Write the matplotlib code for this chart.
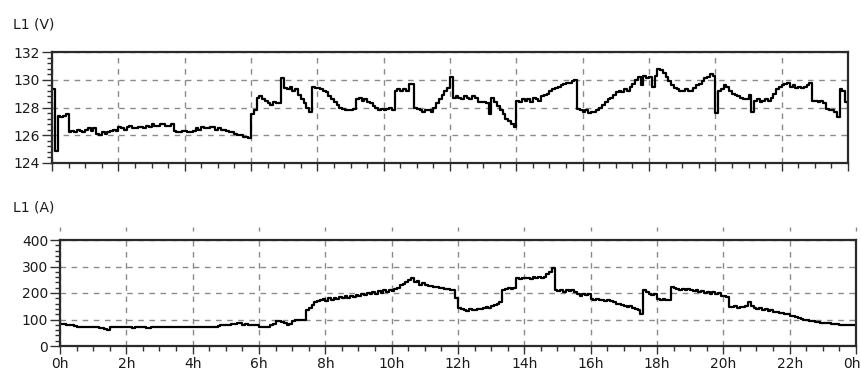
import numpy as np
import matplotlib
matplotlib.use("Agg")
import matplotlib.pyplot as plt
from matplotlib.ticker import MultipleLocator
from matplotlib.transforms import ScaledTranslation

# Phase L1 voltage (V), one reading every 5 minutes (12 per hour)
voltage = [
    129.3, 124.9, 127.4, 127.3, 127.4, 127.5, 126.2, 126.3, 126.2, 126.4, 126.3, 126.2,  # 0h
    126.4, 126.5, 126.3, 126.5, 126.1, 126.0, 126.2, 126.1, 126.2, 126.3, 126.4, 126.3,  # 1h
    126.6, 126.5, 126.4, 126.6, 126.7, 126.5, 126.5, 126.6, 126.6, 126.5, 126.7, 126.6,  # 2h
    126.8, 126.7, 126.7, 126.8, 126.8, 126.7, 126.7, 126.8, 126.3, 126.2, 126.2, 126.3,  # 3h
    126.3, 126.2, 126.2, 126.3, 126.5, 126.4, 126.6, 126.5, 126.5, 126.6, 126.6, 126.4,  # 4h
    126.5, 126.4, 126.4, 126.3, 126.2, 126.2, 126.1, 126.0, 126.0, 125.9, 125.9, 125.8,  # 5h
    127.5, 127.8, 128.7, 128.8, 128.6, 128.5, 128.3, 128.2, 128.4, 128.3, 128.3, 130.1,  # 6h
    129.4, 129.3, 129.5, 129.2, 129.3, 128.9, 128.6, 128.3, 128.0, 127.7, 129.5, 129.4,  # 7h
    129.4, 129.3, 129.2, 129.1, 128.8, 128.6, 128.4, 128.2, 128.0, 127.9, 127.8, 127.8,  # 8h
    127.8, 127.9, 128.6, 128.7, 128.5, 128.6, 128.4, 128.3, 128.1, 128.0, 127.8, 127.9,  # 9h
    127.8, 127.9, 128.0, 127.8, 129.2, 129.3, 129.2, 129.3, 129.2, 129.7, 129.7, 128.0,  # 10h
    127.9, 127.8, 127.7, 127.8, 127.8, 127.7, 128.0, 128.3, 128.6, 128.9, 129.2, 129.4,  # 11h
    130.2, 128.7, 128.8, 128.7, 128.6, 128.8, 128.7, 128.6, 128.8, 128.7, 128.4, 128.4,  # 12h
    128.4, 128.3, 127.5, 128.7, 128.4, 128.1, 127.8, 127.5, 127.2, 127.0, 126.8, 126.6,  # 13h
    128.5, 128.4, 128.6, 128.5, 128.6, 128.4, 128.7, 128.6, 128.5, 128.8, 128.9, 129.0,  # 14h
    129.2, 129.3, 129.4, 129.5, 129.6, 129.7, 129.8, 129.8, 129.9, 130.0, 127.9, 127.8,  # 15h
    127.7, 127.8, 127.6, 127.7, 127.7, 127.8, 128.0, 128.2, 128.4, 128.6, 128.7, 128.9,  # 16h
    129.1, 129.2, 129.1, 129.3, 129.2, 129.5, 129.7, 130.0, 130.2, 129.6, 130.3, 130.1,  # 17h
    130.2, 129.5, 130.3, 130.8, 130.7, 130.5, 130.2, 129.9, 129.6, 129.4, 129.3, 129.2,  # 18h
    129.2, 129.3, 129.2, 129.2, 129.4, 129.6, 129.7, 129.9, 130.1, 130.2, 130.4, 130.3,  # 19h
    127.6, 129.2, 129.3, 129.6, 129.5, 129.2, 129.0, 128.9, 128.8, 128.7, 128.6, 128.6,  # 20h
    128.9, 127.7, 128.5, 128.6, 128.4, 128.5, 128.6, 128.5, 128.7, 129.0, 129.3, 129.5,  # 21h
    129.6, 129.7, 129.8, 129.5, 129.6, 129.4, 129.5, 129.4, 129.5, 129.6, 129.8, 128.5,  # 22h
    128.5, 128.4, 128.5, 128.3, 127.9, 127.8, 127.8, 127.7, 127.3, 129.3, 129.2, 128.4,  # 23h
    128.0,
]

# Phase L1 current (A), same 5-minute readings
current = [
    82, 84, 80, 81, 78, 76, 72, 73, 70, 71, 71, 72,  # 0h
    70, 71, 68, 69, 64, 62, 70, 70, 71, 72, 70, 71,  # 1h
    70, 71, 69, 72, 71, 70, 70, 69, 69, 71, 70, 70,  # 2h
    70, 70, 70, 71, 71, 72, 70, 70, 70, 72, 71, 72,  # 3h
    72, 73, 70, 71, 71, 70, 70, 72, 72, 76, 78, 80,  # 4h
    80, 81, 82, 84, 85, 86, 81, 82, 80, 79, 79, 80,  # 5h
    72, 70, 70, 72, 80, 82, 93, 95, 92, 88, 80, 82,  # 6h
    95, 98, 97, 99, 98, 136, 145, 155, 165, 170, 172, 176,  # 7h
    170, 180, 172, 182, 176, 185, 180, 188, 182, 190, 186, 192,  # 8h
    188, 196, 192, 200, 195, 204, 198, 206, 200, 210, 205, 212,  # 9h
    208, 216, 220, 230, 235, 242, 248, 256, 240, 246, 232, 236,  # 10h
    230, 226, 228, 222, 224, 218, 220, 214, 216, 210, 212, 180,  # 11h
    145, 140, 136, 132, 138, 134, 136, 140, 138, 142, 148, 145,  # 12h
    150, 155, 160, 167, 212, 215, 218, 214, 220, 255, 252, 258,  # 13h
    255, 258, 254, 260, 257, 262, 258, 262, 270, 278, 293, 210,  # 14h
    208, 212, 205, 210, 206, 212, 204, 198, 190, 198, 192, 196,  # 15h
    176, 174, 178, 172, 174, 170, 172, 168, 165, 160, 158, 155,  # 16h
    152, 148, 150, 144, 140, 136, 121, 210, 205, 195, 192, 196,  # 17h
    176, 174, 178, 172, 175, 224, 218, 215, 212, 216, 210, 214,  # 18h
    212, 208, 210, 204, 206, 200, 204, 198, 202, 196, 200, 188,  # 19h
    190, 186, 148, 146, 150, 144, 148, 146, 152, 166, 150, 145,  # 20h
    140, 142, 136, 138, 132, 134, 128, 130, 125, 126, 121, 122,  # 21h
    112, 114, 108, 106, 102, 98, 100, 96, 94, 92, 90, 88,  # 22h
    86, 87, 85, 84, 82, 83, 80, 80, 79, 80, 78, 78,  # 23h
    78,
]

hour_ticks = list(range(0, 25, 2))
hour_labels = ["0h", "2h", "4h", "6h", "8h", "10h", "12h",
               "14h", "16h", "18h", "20h", "22h", "0h"]
voltage_ticks = [124, 126, 128, 130, 132]
current_ticks = [0, 100, 200, 300, 400]

hours = np.arange(len(voltage)) / 12.0

W, H = 862, 372
fig = plt.figure(figsize=(W / 100, H / 100), dpi=100)
fig.patch.set_facecolor("white")

text_color = "#1a1a1a"
grid_kw = dict(color="#8a8a8a", linestyle=(0, (4, 4)), linewidth=1.0)
font_size = 10


def style_axes(ax, yticks, ylim, yminor, show_xlabels):
    ax.set_xlim(0, 24)
    ax.set_ylim(*ylim)
    ax.set_xticks(hour_ticks)
    ax.xaxis.set_minor_locator(MultipleLocator(0.5))
    ax.set_yticks(yticks)
    ax.yaxis.set_minor_locator(MultipleLocator(yminor))
    if show_xlabels:
        ax.set_xticklabels(hour_labels)
    else:
        ax.set_xticklabels([])
    ax.grid(True, which="major", **grid_kw)
    ax.tick_params(axis="x", which="major", direction="out", length=5.5,
                   width=1.0, color="#333333", labelsize=font_size,
                   labelcolor=text_color, pad=2.5)
    ax.tick_params(axis="y", which="major", direction="out", length=7,
                   width=1.0, color="#333333", labelsize=font_size,
                   labelcolor=text_color, pad=1.5)
    ax.tick_params(axis="both", which="minor", direction="out", length=3.5,
                   width=1.0, color="#333333")
    for sp in ax.spines.values():
        sp.set_color("#2a2a2a")
        sp.set_linewidth(1.6)
    ax.set_axisbelow(True)


# Voltage panel
ax_v = fig.add_axes([52 / W, 1 - 163 / H, 796 / W, 111 / H])
ax_v.plot(hours, voltage, color="black", linewidth=1.6, drawstyle="steps-post")
style_axes(ax_v, voltage_ticks, (124, 132), 0.4, False)
fig.text(13 / W, 1 - 24 / H, "L1 (V)", fontsize=font_size, color=text_color,
         ha="left", va="center")

# Current panel
ax_a = fig.add_axes([60 / W, 26 / H, 796 / W, 106 / H])
ax_a.plot(hours, current, color="black", linewidth=1.6, drawstyle="steps-post")
style_axes(ax_a, current_ticks, (0, 400), 20, True)
ax_a.vlines(hour_ticks, 434, 448, colors="#8a8a8a", linewidth=1.0, clip_on=False)
fig.text(13 / W, 1 - 208 / H, "L1 (A)", fontsize=font_size, color=text_color,
         ha="left", va="center")

# nudge the closing midnight label inward so it stays on the canvas
last = ax_a.get_xticklabels()[-1]
last.set_transform(last.get_transform() + ScaledTranslation(-4 / 100, 0, fig.dpi_scale_trans))

fig.savefig("out.png", dpi=100, facecolor="white")
